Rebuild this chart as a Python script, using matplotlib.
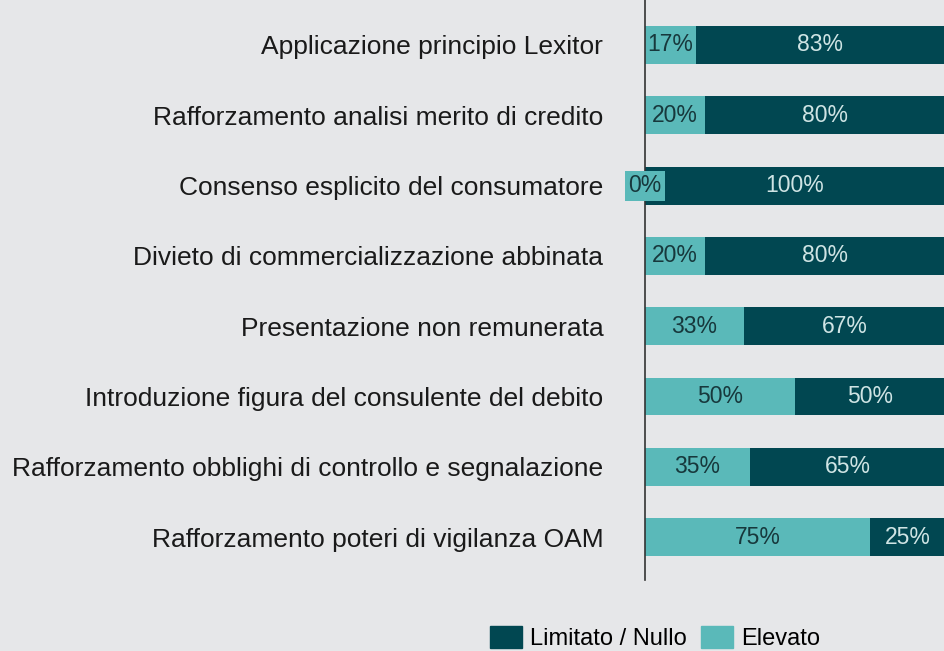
import matplotlib.pyplot as plt
from matplotlib.patches import Patch

plt.rcParams['font.family'] = ['Liberation Sans', 'DejaVu Sans']

categories = ['Applicazione principio Lexitor',
              'Rafforzamento analisi merito di credito',
              'Consenso esplicito del consumatore',
              'Divieto di commercializzazione abbinata',
              'Presentazione non remunerata',
              'Introduzione figura del consulente del debito',
              'Rafforzamento obblighi di controllo e segnalazione',
              'Rafforzamento poteri di vigilanza OAM']
elevato = [17, 20, 0, 20, 33, 50, 35, 75]
limitato = [83, 80, 100, 80, 67, 50, 65, 25]

bg = '#e6e7e9'
dark = '#014751'
light = '#5ab9b9'

fig = plt.figure(figsize=(9.45, 6.51), dpi=100, facecolor=bg)
ax = fig.add_axes([645/945, 71/651, 300/945, 580/651])
ax.set_facecolor(bg)

y = list(range(len(categories)))
h = 0.54
ax.barh(y, elevato, height=h, color=light)
ax.barh(y, limitato, left=elevato, height=h, color=dark)

for i in y:
    e, l = elevato[i], limitato[i]
    if e > 0:
        ax.text(e/2, i, f'{e}%', ha='center', va='center', fontsize=16.5, color='#17383c')
    else:
        ax.text(0, i, f'{e}%', ha='center', va='center', fontsize=16.5, color='#17383c',
                bbox=dict(facecolor=light, edgecolor='none', pad=2.5))
    ax.text(e + l/2, i, f'{l}%', ha='center', va='center', fontsize=16.5, color='#cfe4e4')

ax.set_xlim(0, 100)
ax.set_ylim(7.61, -0.64)
ax.set_yticks(y)
ax.set_yticklabels(categories, fontsize=19, color='#1a1a1a')
ax.tick_params(axis='y', length=0, pad=30)
ax.set_xticks([])
for s in ['top', 'right', 'bottom']:
    ax.spines[s].set_visible(False)
ax.spines['left'].set_color('#333333')
ax.spines['left'].set_linewidth(1.2)

handles = [Patch(color=dark, label='Limitato / Nullo'), Patch(color=light, label='Elevato')]
fig.legend(handles=handles, loc='center', bbox_to_anchor=(655/945, 1 - 638/651), ncol=2,
           frameon=False, fontsize=17, handlelength=1.35, handleheight=1.1,
           handletextpad=0.35, columnspacing=0.6)

fig.savefig('out.png', dpi=100, facecolor=bg)
